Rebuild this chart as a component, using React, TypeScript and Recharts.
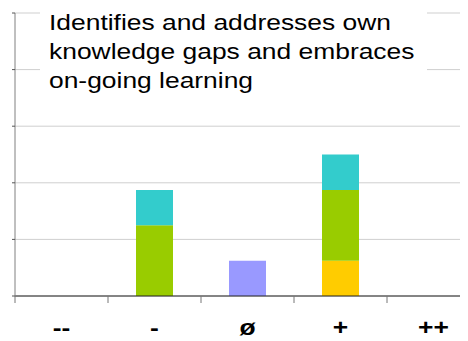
import { BarChart, Bar, XAxis, YAxis, CartesianGrid } from 'recharts'

const categories = ['--', '-', 'ø', '+', '++']
const yellowVals = [0, 0, 0, 1, 0]
const purpleVals = [0, 0, 1, 0, 0]
const greenVals = [0, 2, 0, 2, 0]
const cyanVals = [0, 1, 0, 1, 0]
const yTicks = [0, 1.6, 3.2, 4.8, 6.4, 8]
const bandTicks = [0, 1, 2, 3, 4, 5]
const titleLines = ['Identifies and addresses own', 'knowledge gaps and embraces', 'on-going learning']

const FONT = 'Liberation Sans, Arial, sans-serif'

const data = categories.map((c, i) => ({
  cat: c,
  pos: i,
  yellow: yellowVals[i],
  purple: purpleVals[i],
  green: greenVals[i],
  cyan: cyanVals[i],
}))

// bold category label, slightly widened
const CatTick = (props: any) => {
  const { x, y, payload } = props
  return (
    <g transform={`translate(${x},${y}) scale(1.2,1)`}>
      <text x={0} y={0} dy="0.71em" textAnchor="middle" fontSize={22} fontWeight="bold" fontFamily={FONT} fill="#000">
        {payload.value}
      </text>
    </g>
  )
}

const blank = () => ''

export default function App() {
  return (
    <div style={{ position: 'relative', width: 460, height: 333, overflow: 'hidden' }}>
      <BarChart width={472} height={333} data={data} margin={{ top: 5, right: 0, left: 0, bottom: 0 }} barSize={37}>
        <CartesianGrid vertical={false} stroke="#cfcfcf" />
        {/* boundary ticks between categories, sits right on the plot */}
        <XAxis
          dataKey="pos"
          type="number"
          scale="linear"
          domain={[0, 5]}
          ticks={bandTicks}
          tickFormatter={blank}
          tickSize={7}
          height={8}
          axisLine={{ stroke: '#222' }}
          tickLine={{ stroke: '#777' }}
          allowDataOverflow
        />
        <XAxis
          xAxisId="cat"
          dataKey="cat"
          height={37}
          axisLine={false}
          tickLine={false}
          tickSize={0}
          tickMargin={15}
          tick={<CatTick />}
        />
        <YAxis
          width={7}
          domain={[0, 8]}
          ticks={yTicks}
          tickFormatter={blank}
          tickSize={3}
          axisLine={{ stroke: '#808080' }}
          tickLine={{ stroke: '#555' }}
        />
        <Bar xAxisId="cat" dataKey="yellow" stackId="s" fill="#FFCC00" isAnimationActive={false} />
        <Bar xAxisId="cat" dataKey="purple" stackId="s" fill="#9999FF" isAnimationActive={false} />
        <Bar xAxisId="cat" dataKey="green" stackId="s" fill="#99CC00" isAnimationActive={false} />
        <Bar xAxisId="cat" dataKey="cyan" stackId="s" fill="#33CCCC" isAnimationActive={false} />
      </BarChart>
      <div
        style={{
          position: 'absolute',
          left: 32,
          top: 0,
          width: 387,
          height: 92,
          background: '#fff',
          paddingLeft: 9,
          boxSizing: 'border-box',
          fontFamily: FONT,
          fontSize: 22,
          lineHeight: '29px',
          color: '#000',
        }}
      >
        {titleLines.map((t) => (
          <div key={t} style={{ whiteSpace: 'nowrap', transform: 'scaleX(1.2)', transformOrigin: 'left' }}>
            {t}
          </div>
        ))}
      </div>
    </div>
  )
}
